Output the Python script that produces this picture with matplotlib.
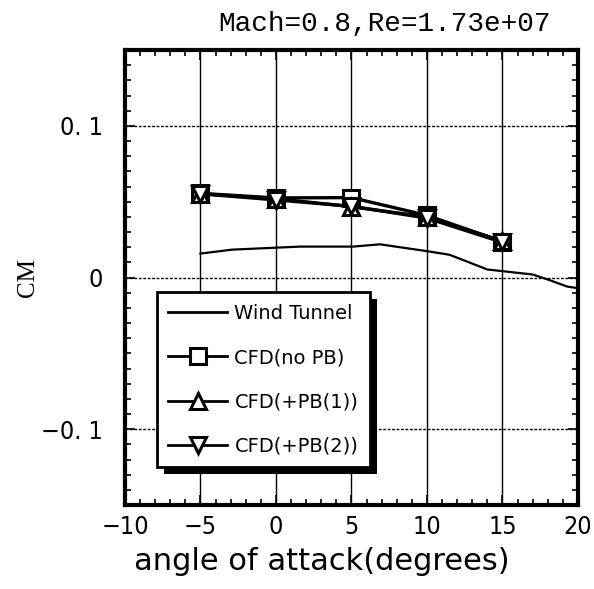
import matplotlib
matplotlib.use("Agg")
import matplotlib.pyplot as plt
import matplotlib.patheffects as pe
from matplotlib.ticker import MultipleLocator, FixedLocator, FixedFormatter

# Wind tunnel measurement (continuous curve)
wt_alpha = [-5.0, -2.9, 1.6, 5.1, 6.9, 10.2, 11.5, 14.0, 17.0, 18.0, 19.3, 20.0]
wt_cm = [0.0158, 0.0184, 0.0204, 0.0204, 0.0219, 0.0171, 0.0150, 0.0053, 0.0020, -0.0013, -0.0060, -0.0070]

# CFD results
cfd_alpha = [-5, 0, 5, 10, 15]
cfd_nopb = [0.0555, 0.0525, 0.0527, 0.0410, 0.0237]
cfd_pb1 = [0.0553, 0.0520, 0.0467, 0.0400, 0.0240]
cfd_pb2 = [0.0552, 0.0512, 0.0470, 0.0392, 0.0232]

x_ticks = [-10, -5, 0, 5, 10, 15, 20]
y_ticks = [-0.1, 0.0, 0.1]
y_tick_labels = ["\u22120. 1", "0", "0. 1"]

fig = plt.figure(figsize=(5.94, 5.89), dpi=100)
ax = fig.add_axes([0.2104, 0.1426, 0.7626, 0.7724])

ax.plot(wt_alpha, wt_cm, color="black", lw=1.6, label="Wind Tunnel")
ax.plot(cfd_alpha, cfd_nopb, color="black", lw=2.4, marker="s", ms=12,
        mfc="white", mec="black", mew=2.2, label="CFD(no PB)")
ax.plot(cfd_alpha, cfd_pb1, color="black", lw=2.4, marker="^", ms=12,
        mfc="white", mec="black", mew=2.2, label="CFD(+PB(1))")
ax.plot(cfd_alpha, cfd_pb2, color="black", lw=2.4, marker="v", ms=12,
        mfc="white", mec="black", mew=2.2, label="CFD(+PB(2))")

ax.set_xlim(-10, 20)
ax.set_ylim(-0.15, 0.15)
ax.xaxis.set_major_locator(FixedLocator(x_ticks))
ax.xaxis.set_minor_locator(MultipleLocator(1))
ax.yaxis.set_major_locator(FixedLocator(y_ticks))
ax.yaxis.set_major_formatter(FixedFormatter(y_tick_labels))
ax.yaxis.set_minor_locator(MultipleLocator(0.01))

ax.tick_params(which="both", direction="in", top=True, right=True, color="black")
ax.tick_params(which="major", length=7, width=1.2, labelsize=18, pad=7)
ax.tick_params(axis="y", which="major", pad=16)
ax.tick_params(which="minor", length=4, width=1.2)
for lab in ax.get_xticklabels() + ax.get_yticklabels():
    lab.set_family("DejaVu Sans")
    lab.set_stretch("condensed")

ax.grid(True, axis="y", which="major", color="black", lw=1.0, ls=(0, (2, 1.2)))
ax.grid(True, axis="x", which="major", color="black", lw=1.0, ls="-")

for sp in ax.spines.values():
    sp.set_linewidth(3)

ax.set_title("Mach=0.8,Re=1.73e+07", family="Liberation Mono", fontsize=20, pad=14, x=0.572)
ax.set_xlabel("angle of attack(degrees)", family="DejaVu Sans", fontsize=22)
ax.xaxis.set_label_coords(0.435, -0.092)
ax.set_ylabel("CM", family="Liberation Serif", fontsize=18)
ax.yaxis.set_label_coords(-0.19, 0.5)

leg = ax.legend(loc="upper left", bbox_to_anchor=(0.07, 0.468), borderaxespad=0,
                frameon=True, fancybox=False, handlelength=3.0,
                labelspacing=1.3, borderpad=0.6, handletextpad=0.4,
                prop={"family": "DejaVu Sans", "size": 14})
frame = leg.get_frame()
frame.set_edgecolor("black")
frame.set_linewidth(2.0)
frame.set_alpha(1)
frame.set_path_effects([pe.SimplePatchShadow(offset=(5, -5), shadow_rgbFace="black", alpha=1.0),
                        pe.Normal()])
for h in leg.legend_handles:
    h.set_linewidth(2.0)
    h.set_markersize(11)

fig.savefig("out.png", dpi=100)
